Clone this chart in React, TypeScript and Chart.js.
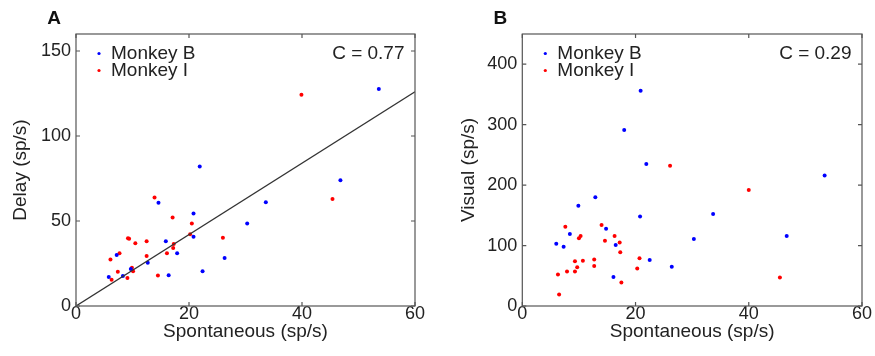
import React, { useEffect, useRef } from 'react';
import { Chart, registerables } from 'chart.js';

Chart.register(...registerables);

const FONT = '"Liberation Sans", Arial, Helvetica, sans-serif';

// Axis ticks
const xTicks = [0, 20, 40, 60];
const delayTicks = [0, 50, 100, 150];
const visualTicks = [0, 100, 200, 300, 400];

// Series names / colours
const seriesLabels = ['Monkey B', 'Monkey I'];
const seriesColors = ['#0000ff', '#ff0000'];

// Panel A: Delay vs Spontaneous
const aBlueX = [21.9, 14.6, 20.8, 20.8, 15.9, 17.9, 12.7, 16.4, 22.4, 7.2, 9.7, 8.3, 5.8, 26.3, 30.3, 33.6, 46.8, 53.6];
const aBlueY = [82.0, 60.7, 54.4, 40.8, 38.1, 31.1, 25.4, 18.1, 20.5, 30.0, 21.7, 17.7, 17.0, 28.2, 48.5, 61.1, 73.9, 127.7];
const aRedX = [13.9, 17.1, 20.5, 20.2, 26.0, 9.2, 9.4, 10.5, 12.5, 17.3, 17.2, 16.1, 12.5, 7.7, 6.1, 7.4, 9.9, 10.1, 9.1, 6.3, 14.5, 39.9, 45.4];
const aRedY = [63.8, 52.0, 48.5, 42.2, 40.2, 39.8, 39.6, 36.9, 38.1, 36.5, 34.1, 31.0, 29.4, 31.0, 27.4, 20.1, 22.5, 20.5, 16.5, 15.4, 18.0, 124.3, 62.9];
const fitX = [0, 60];
const fitY = [0, 126];
const corrA = 'C = 0.77';

// Panel B: Visual vs Spontaneous
const bBlueX = [20.9, 18.0, 21.9, 12.9, 9.9, 20.8, 14.8, 8.4, 6.0, 7.3, 16.5, 22.5, 26.4, 16.1, 53.4, 33.7, 30.3, 46.7];
const bBlueY = [356, 291, 235, 180, 166, 148, 128, 119, 103, 98, 101, 76, 65, 48, 216, 152, 111, 116];
const bRedX = [26.1, 7.6, 14.0, 10.3, 10.0, 16.3, 14.6, 17.2, 17.3, 20.7, 20.3, 10.7, 9.3, 9.7, 9.3, 12.7, 12.7, 7.9, 6.3, 17.5, 6.5, 40.0, 45.5];
const bRedY = [232, 131, 134, 116, 112, 116, 108, 105, 89, 79, 62, 75, 74, 64, 57, 77, 66, 57, 52, 39, 19, 192, 47];
const corrB = 'C = 0.29';

const pts = (xs: number[], ys: number[]) => xs.map((x, i) => ({ x, y: ys[i] }));

const framePlugin = {
  id: 'frame',
  afterDatasetsDraw(chart: any) {
    const { ctx, chartArea, scales } = chart;
    const { left, right, top, bottom } = chartArea;
    ctx.save();
    ctx.strokeStyle = '#555';
    ctx.lineWidth = 1.2;
    ctx.strokeRect(left, top, right - left, bottom - top);
    const L = 4;
    ctx.beginPath();
    scales.x.ticks.forEach((t: any) => {
      const px = scales.x.getPixelForValue(t.value);
      ctx.moveTo(px, bottom);
      ctx.lineTo(px, bottom - L);
      ctx.moveTo(px, top);
      ctx.lineTo(px, top + L);
    });
    scales.y.ticks.forEach((t: any) => {
      const py = scales.y.getPixelForValue(t.value);
      ctx.moveTo(left, py);
      ctx.lineTo(left + L, py);
      ctx.moveTo(right, py);
      ctx.lineTo(right - L, py);
    });
    ctx.stroke();
    ctx.restore();
  },
};

const annotPlugin = {
  id: 'annot',
  afterDraw(chart: any, _args: any, opts: any) {
    const { ctx, chartArea } = chart;
    const { left, right, top } = chartArea;
    ctx.save();
    // panel letter
    ctx.fillStyle = '#111';
    ctx.font = `bold 19px ${FONT}`;
    ctx.textAlign = 'center';
    ctx.textBaseline = 'middle';
    ctx.fillText(opts.letter, left - 22, top - 15);
    // correlation
    ctx.font = `19px ${FONT}`;
    ctx.textAlign = 'right';
    ctx.fillStyle = '#222';
    ctx.fillText(opts.corr, right - 10.5, top + 20);
    // legend
    const ds = chart.data.datasets.filter((d: any) => seriesLabels.includes(d.label));
    ds.forEach((d: any, i: number) => {
      const cy = top + 19.5 + i * 17;
      ctx.fillStyle = d.backgroundColor;
      ctx.beginPath();
      ctx.arc(left + 23, cy, 1.6, 0, Math.PI * 2);
      ctx.fill();
      ctx.fillStyle = '#222';
      ctx.textAlign = 'left';
      ctx.fillText(d.label, left + 35, cy + 0.5);
    });
    ctx.restore();
  },
};

function makeConfig(p: any): any {
  const datasets: any[] = [
    {
      label: seriesLabels[0],
      data: pts(p.blueX, p.blueY),
      backgroundColor: seriesColors[0],
      borderColor: seriesColors[0],
      pointRadius: 2,
      borderWidth: 0,
    },
    {
      label: seriesLabels[1],
      data: pts(p.redX, p.redY),
      backgroundColor: seriesColors[1],
      borderColor: seriesColors[1],
      pointRadius: 2,
      borderWidth: 0,
    },
  ];
  if (p.fit) {
    datasets.unshift({
      label: 'fit',
      data: pts(fitX, fitY),
      showLine: true,
      borderColor: '#333',
      backgroundColor: '#333',
      borderWidth: 1.3,
      pointRadius: 0,
    });
  }
  return {
    type: 'scatter',
    data: { datasets },
    options: {
      responsive: false,
      animation: false,
      devicePixelRatio: 1,
      layout: { padding: { left: 0, top: 34, right: p.padRight, bottom: 0 } },
      plugins: {
        legend: { display: false },
        tooltip: { enabled: false },
        annot: { letter: p.letter, corr: p.corr },
      },
      scales: {
        x: {
          type: 'linear',
          position: 'bottom',
          min: 0,
          max: 60,
          afterBuildTicks: (s: any) => {
            s.ticks = xTicks.map((v) => ({ value: v }));
          },
          afterFit: (s: any) => {
            s.height = 50;
          },
          grid: { display: false, drawTicks: false },
          border: { display: false },
          ticks: {
            font: { family: FONT, size: 18 },
            color: '#222',
            padding: -3,
            maxRotation: 0,
            autoSkip: false,
          },
          title: {
            display: true,
            text: 'Spontaneous (sp/s)',
            font: { family: FONT, size: 19 },
            color: '#222',
            padding: { top: 0, bottom: 12.6 },
          },
        },
        y: {
          type: 'linear',
          position: 'left',
          min: 0,
          max: p.yMax,
          afterBuildTicks: (s: any) => {
            s.ticks = p.yTicks.map((v: number) => ({ value: v }));
          },
          afterFit: (s: any) => {
            s.width = p.yWidth;
          },
          grid: { display: false, drawTicks: false },
          border: { display: false },
          ticks: {
            font: { family: FONT, size: 18 },
            color: '#222',
            padding: 5,
            autoSkip: false,
          },
          title: {
            display: true,
            text: p.yTitle,
            font: { family: FONT, size: 19 },
            color: '#222',
            padding: { top: p.yTitlePad, bottom: 0 },
          },
        },
      },
    },
    plugins: [framePlugin, annotPlugin],
  };
}

export default function App() {
  const refA = useRef<HTMLCanvasElement>(null);
  const refB = useRef<HTMLCanvasElement>(null);

  useEffect(() => {
    const cA = new Chart(
      refA.current as HTMLCanvasElement,
      makeConfig({
        blueX: aBlueX,
        blueY: aBlueY,
        redX: aRedX,
        redY: aRedY,
        fit: true,
        yMax: 160,
        yTicks: delayTicks,
        yTitle: 'Delay (sp/s)',
        yWidth: 76,
        yTitlePad: 8.9,
        padRight: 25,
        letter: 'A',
        corr: corrA,
      })
    );
    const cB = new Chart(
      refB.current as HTMLCanvasElement,
      makeConfig({
        blueX: bBlueX,
        blueY: bBlueY,
        redX: bRedX,
        redY: bRedY,
        fit: false,
        yMax: 450,
        yTicks: visualTicks,
        yTitle: 'Visual (sp/s)',
        yWidth: 82.3,
        yTitlePad: 17.3,
        padRight: 13,
        letter: 'B',
        corr: corrB,
      })
    );
    return () => {
      cA.destroy();
      cB.destroy();
    };
  }, []);

  return (
    <div style={{ position: 'fixed', left: 0, top: 0, width: 875, height: 356, background: '#fff' }}>
      <canvas ref={refA} width={440} height={356} style={{ position: 'absolute', left: 0, top: 0 }} />
      <canvas ref={refB} width={435} height={356} style={{ position: 'absolute', left: 440, top: 0 }} />
    </div>
  );
}
